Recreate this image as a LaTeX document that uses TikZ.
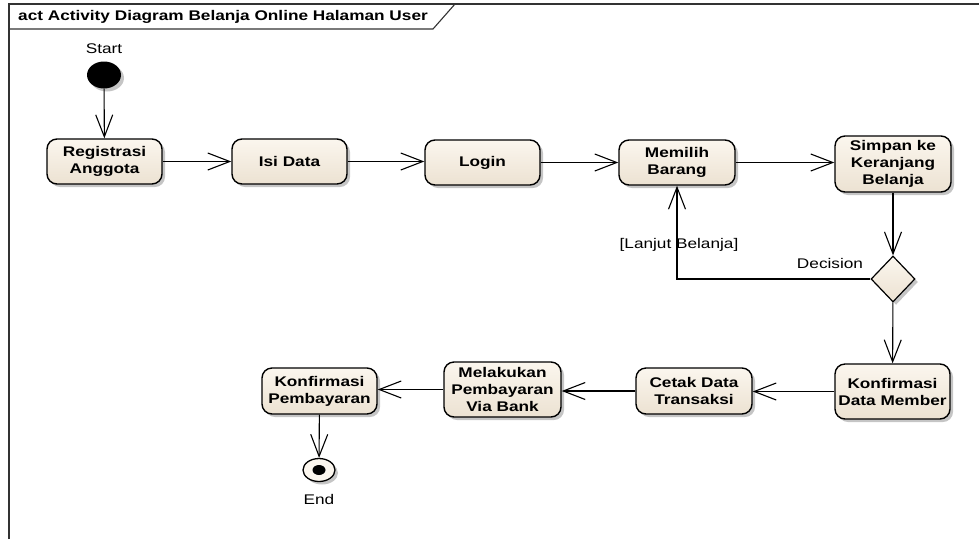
\documentclass[tikz,border=0pt]{standalone}
\usepackage{fontspec}
\setmainfont{Liberation Sans}[FakeStretch=1.23]
\usetikzlibrary{arrows.meta,shapes.geometric,shadows}
\definecolor{boxtop}{RGB}{251,246,238}
\definecolor{boxbot}{RGB}{236,226,210}
\definecolor{framec}{RGB}{50,50,50}
\begin{document}
\begin{tikzpicture}[x=1pt,y=-1pt,
  shad/.style={drop shadow={shadow xshift=3pt,shadow yshift=-3pt,fill=black!45,opacity=0.5}},
  act/.style={draw=black,line width=1.4pt,rounded corners=10pt,top color=boxtop,bottom color=boxbot,
    minimum width=115pt,inner sep=0pt,align=center,font=\bfseries\fontsize{14}{17}\selectfont,shad},
  dec/.style={diamond,draw=black,line width=1.2pt,top color=boxtop,bottom color=boxbot,
    minimum width=44pt,minimum height=46pt,inner sep=0pt,shad},
  conn/.style={line width=1.1pt,-{Straight Barb[length=22pt,width=17pt,line width=1.1pt]}},
  lbl/.style={font=\fontsize{14}{17}\selectfont,inner sep=0pt},
  ttl/.style={font=\bfseries\fontsize{14}{17}\selectfont,inner sep=0pt,anchor=west}]
\useasboundingbox (0,0) rectangle (979,539);
% frame
\draw[framec,line width=1.3pt] (9,539) -- (9,4) -- (979,4);
\draw[framec,line width=1.1pt] (9,29) -- (433,29) -- (455,4);
\node[ttl] (title) at (18,17) {act Activity Diagram Belanja Online Halaman User};
% start
\node[ellipse,fill=black,minimum width=34pt,minimum height=27pt,inner sep=0pt,shad] (start) at (104,75) {};
\node[lbl] (lstart) at (104,49) {Start};
% actions
\node[act,minimum height=45pt] (reg) at (104.5,161.5) {Registrasi\\Anggota};
\node[act,minimum height=45pt] (isi) at (289.5,161.5) {Isi Data};
\node[act,minimum height=45pt] (log) at (482.5,162.5) {Login};
\node[act,minimum height=45pt,minimum width=116pt] (mem) at (677,162.5) {Memilih\\Barang};
\node[act,minimum height=56pt,minimum width=116pt] (sim) at (893,164) {Simpan ke\\Keranjang\\Belanja};
\node[dec] (dec) at (893,279) {};
\node[lbl] (ldec) at (830,263) {Decision};
\node[lbl] (llanjut) at (679,245) {[Lanjut Belanja]};
\node[act,minimum height=55pt] (kdm) at (892.5,391.5) {Konfirmasi\\Data Member};
\node[act,minimum height=46pt,minimum width=116pt] (cet) at (694,391) {Cetak Data\\Transaksi};
\node[act,minimum height=55pt,minimum width=117pt] (mel) at (502.5,389.5) {Melakukan\\Pembayaran\\Via Bank};
\node[act,minimum height=46pt] (kp) at (319.5,391) {Konfirmasi\\Pembayaran};
% end
\node[ellipse,draw=black,line width=1.3pt,fill=boxtop,minimum width=32pt,minimum height=23pt,inner sep=0pt,shad] (end) at (319,470) {};
\node[ellipse,fill=black,minimum width=13pt,minimum height=10pt,inner sep=0pt] (endin) at (end.center) {};
\node[lbl] (lend) at (319,499) {End};
% connectors
\draw[conn] (start) -- (reg);
\draw[conn] (reg) -- (isi);
\draw[conn] (isi.east) -- (isi.east -| log.west);
\draw[conn] (log) -- (mem);
\draw[conn] (mem.east) -- (mem.east -| sim.west);
\draw[conn] (sim) -- (dec);
\draw[conn] (dec.west) -| (mem.south);
\draw[conn] (dec) -- (kdm);
\draw[conn] (kdm.west) -- (kdm.west -| cet.east);
\draw[conn] (cet.west) -- (cet.west -| mel.east);
\draw[conn] (mel.west) -- (mel.west -| kp.east);
\draw[conn] (kp) -- (end);
\end{tikzpicture}
\end{document}
